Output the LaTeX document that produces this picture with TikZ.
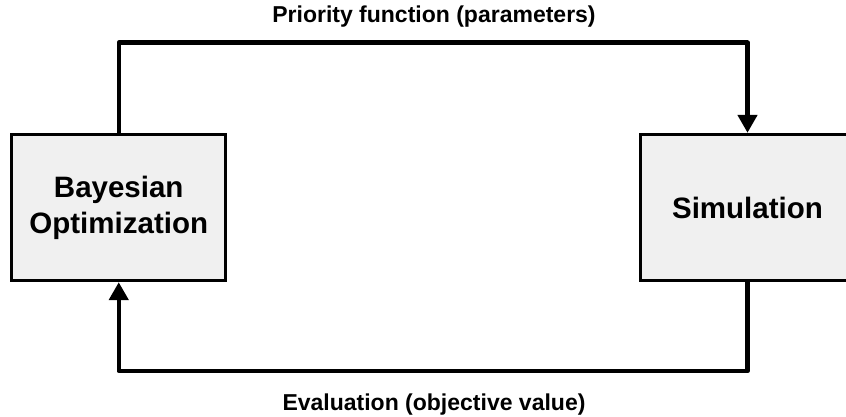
\documentclass[tikz,border=0pt]{standalone}
\usepackage{fontspec}
\setmainfont{Liberation Sans}
\usetikzlibrary{arrows.meta,calc}
\definecolor{boxfill}{HTML}{F0F0F0}
\tikzset{
  blockbox/.style={draw=black, fill=boxfill, line width=3.3pt, minimum width=214pt, minimum height=146pt, inner sep=0pt, align=center, font=\fontsize{29.5}{36}\selectfont\bfseries},
  conn/.style={line width=4.5pt, line join=round, -{Triangle[length=18pt,width=19pt]}},
  lbl/.style={inner sep=0pt, anchor=base, font=\fontsize{23}{27}\selectfont\bfseries}
}
\begin{document}
\begin{tikzpicture}[x=1pt,y=-1pt]
\clip (0,0) rectangle (846,417);
\fill[white] (0,0) rectangle (846,417);
\node[blockbox] (bo) at (118.75,207.5) {Bayesian\\Optimization};
\node[blockbox] (sim) at (747.5,207.5) {Simulation};
\coordinate (top) at (0,42.7);
\coordinate (bot) at (0,371);
\draw[conn] (bo.north) -- (bo.north |- top) -| (sim.north);
\draw[conn] (sim.south) -- (sim.south |- bot) -| (bo.south);
\node[lbl] (tl) at (434,22.7) {Priority function (parameters)};
\node[lbl] (bl) at (434,410.3) {Evaluation (objective value)};
\end{tikzpicture}
\end{document}
